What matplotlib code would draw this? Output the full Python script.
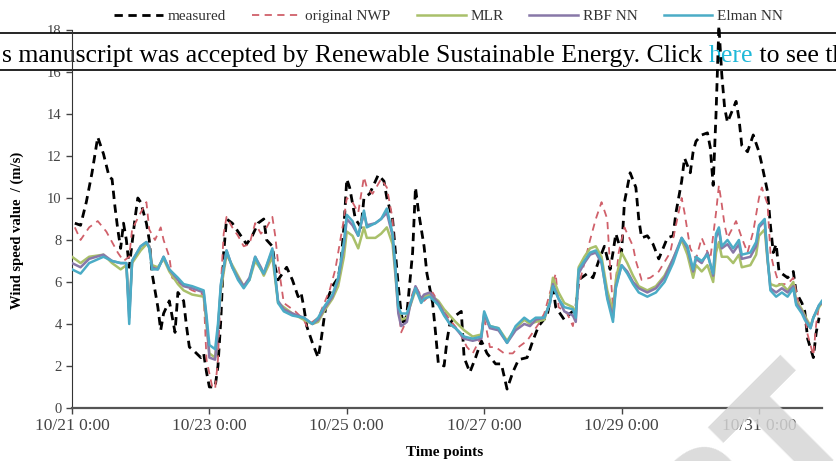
import numpy as np
import matplotlib
matplotlib.use("Agg")
import matplotlib.pyplot as plt
from matplotlib.patches import Rectangle

plt.rcParams['font.family'] = ['Liberation Serif', 'DejaVu Serif']

# hours since 10/21 0:00
meas_t = [1, 3, 5, 7, 9, 11, 13, 14, 15, 16, 17, 18, 19, 20, 22, 23, 24, 26, 27, 28,
          30, 31, 32, 34, 36, 37, 39, 40, 41, 42, 45, 46, 47, 48, 50, 51, 52, 53, 54, 56,
          59, 61, 63, 65, 67, 68, 70, 71, 72, 75, 77, 79, 80, 81, 82, 84, 86, 87, 88, 89,
          91, 93, 94, 95, 96, 97, 99, 101, 102, 104, 107, 109, 110, 112, 114, 115, 116, 117, 119, 120,
          121, 123, 124, 126, 127, 128, 130, 131, 132, 134, 136, 137, 139, 141, 143, 145, 148, 150, 151, 152,
          154, 156, 159, 161, 163, 166, 168, 169, 172, 174, 176, 177, 180, 182, 184, 186, 188, 189, 190, 192,
          193, 195, 197, 198, 199, 201, 203, 205, 208, 210, 211, 213, 214, 216, 217, 218, 220, 222, 223, 224,
          225, 226, 227, 228, 229, 232, 233, 234, 236, 238, 240, 241, 243, 244, 245, 246, 247, 250, 252, 253,
          255, 256, 257, 259, 260, 261]
measured = [8.8, 8.7, 9.8, 11.2, 12.9, 12.1, 11.0, 10.9, 9.6, 8.5, 7.6, 8.8, 8.0, 6.7, 9.0, 10.0, 9.8, 8.8, 8.0, 6.4,
            4.8, 3.7, 4.5, 5.1, 3.6, 5.5, 5.1, 3.9, 2.9, 2.8, 2.4, 2.6, 1.7, 1.0, 1.0, 2.0, 4.2, 7.4, 9.0, 8.8,
            8.2, 7.8, 8.2, 8.8, 9.0, 8.0, 7.7, 6.7, 6.1, 6.7, 6.1, 5.3, 5.5, 4.8, 3.9, 3.1, 2.4, 3.2, 4.2, 5.1,
            5.8, 6.2, 7.0, 8.6, 10.9, 10.5, 9.0, 8.6, 10.0, 10.2, 11.1, 10.8, 10.0, 9.0, 5.8, 4.5, 3.9, 4.5, 7.4, 10.5,
            9.4, 7.7, 6.4, 5.0, 3.6, 2.1, 2.0, 3.2, 4.0, 4.4, 4.6, 2.4, 1.7, 2.4, 3.2, 2.6, 2.1, 2.1, 1.5, 0.9,
            1.7, 2.3, 2.4, 3.2, 3.9, 4.4, 5.8, 4.8, 4.2, 4.5, 4.7, 6.1, 6.4, 6.2, 7.0, 7.7, 6.6, 7.4, 8.3, 7.4,
            9.8, 11.2, 10.5, 9.0, 8.1, 8.2, 7.8, 7.1, 8.1, 8.2, 9.3, 10.8, 11.9, 11.2, 12.2, 12.7, 13.0, 13.1, 12.4, 10.6,
            14.0, 18.2, 15.9, 14.3, 13.6, 14.6, 13.8, 12.5, 12.2, 13.0, 12.2, 11.6, 10.3, 8.7, 7.4, 7.8, 6.5, 6.2, 6.5, 5.5,
            5.0, 4.6, 3.3, 2.4, 3.6, 4.3]

nwp_t = [1, 3, 6, 9, 12, 14, 16, 18, 20, 21, 24, 26, 27, 29, 31, 32, 34, 35, 38, 42,
         46, 47, 49, 50, 51, 52, 53, 54, 56, 58, 60, 62, 64, 66, 68, 70, 71, 72, 74, 78,
         81, 82, 86, 90, 92, 95, 96, 98, 100, 102, 103, 105, 108, 110, 112, 113, 114, 115, 117, 118,
         120, 123, 126, 129, 132, 135, 138, 140, 143, 144, 145, 146, 148, 151, 154, 156, 159, 161, 163, 165,
         167, 169, 170, 173, 175, 177, 179, 181, 183, 185, 187, 188, 189, 191, 193, 196, 197, 199, 202, 205,
         209, 211, 213, 214, 216, 218, 220, 223, 225, 226, 227, 228, 229, 232, 234, 236, 238, 240, 241, 243,
         244, 245, 247, 250, 252, 254, 256, 257, 259, 260, 261]
nwp = [8.6, 8.0, 8.6, 8.9, 8.4, 7.9, 7.4, 7.0, 7.2, 8.5, 9.3, 9.8, 8.5, 8.0, 8.6, 8.0, 7.2, 6.2, 5.9, 5.6,
       5.4, 2.3, 1.0, 0.9, 2.3, 5.8, 8.3, 9.1, 8.6, 8.2, 7.7, 7.8, 8.8, 8.3, 8.6, 9.1, 8.2, 6.9, 5.0, 4.6,
       4.2, 3.9, 4.3, 5.6, 6.6, 9.0, 10.0, 9.8, 9.3, 11.0, 10.5, 10.2, 10.9, 10.5, 9.0, 6.5, 4.8, 3.6, 4.2, 5.1,
       5.8, 5.1, 5.5, 4.8, 4.2, 3.7, 2.9, 2.6, 3.4, 4.3, 3.6, 2.9, 2.9, 2.6, 2.6, 2.9, 3.2, 3.6, 4.0, 4.5,
       5.5, 6.4, 4.8, 4.5, 3.9, 5.8, 6.9, 8.0, 9.0, 9.8, 9.0, 6.7, 4.8, 7.4, 8.6, 7.7, 7.0, 6.1, 6.2, 6.5,
       7.4, 8.7, 10.0, 9.3, 7.6, 7.1, 8.1, 7.1, 9.3, 10.6, 9.7, 8.7, 8.1, 8.9, 8.1, 7.4, 8.4, 10.0, 10.5, 9.7,
       7.4, 6.8, 5.9, 5.9, 6.2, 4.9, 4.4, 3.5, 2.5, 4.0, 4.9]

model_t = [0, 3, 6, 11, 14, 17, 19, 20, 21, 24, 26, 27, 28, 30, 32, 34, 37, 39, 42, 46,
           47, 48, 50, 51, 52, 54, 56, 58, 60, 62, 64, 66, 67, 70, 72, 74, 77, 81, 84, 86,
           88, 91, 93, 95, 96, 98, 100, 102, 103, 106, 108, 110, 112, 113, 114, 115, 117, 118, 120, 122,
           123, 125, 128, 130, 132, 134, 137, 140, 143, 144, 146, 149, 152, 155, 158, 160, 162, 165, 167, 168,
           170, 172, 175, 176, 177, 179, 181, 183, 185, 187, 189, 190, 192, 194, 196, 198, 201, 204, 207, 210,
           213, 215, 217, 218, 220, 222, 224, 225, 226, 227, 229, 231, 233, 234, 237, 239, 240, 242, 243, 244,
           246, 248, 250, 252, 253, 255, 256, 258, 259, 261, 262]
mlr = [7.2, 6.9, 7.2, 7.3, 6.9, 6.6, 6.8, 4.6, 6.9, 7.5, 7.8, 7.7, 6.8, 6.7, 7.1, 6.5, 5.9, 5.6, 5.4, 5.3,
       4.0, 2.6, 2.4, 3.8, 5.6, 7.3, 6.8, 6.3, 5.8, 6.1, 7.0, 6.6, 6.3, 7.2, 5.0, 4.8, 4.5, 4.2, 4.0, 4.1,
       4.6, 5.2, 5.8, 7.2, 8.4, 8.2, 7.6, 8.6, 8.1, 8.1, 8.3, 8.6, 7.8, 6.3, 4.7, 4.2, 4.3, 4.8, 5.6, 5.2,
       5.3, 5.4, 5.1, 4.7, 4.4, 4.1, 3.7, 3.4, 3.5, 4.4, 3.9, 3.8, 3.2, 3.8, 4.2, 4.0, 4.1, 4.2, 5.1, 6.2,
       5.5, 5.0, 4.8, 4.5, 6.7, 7.2, 7.6, 7.7, 7.2, 5.6, 4.6, 6.1, 7.4, 6.9, 6.3, 5.8, 5.6, 5.8, 6.3, 7.1,
       8.0, 7.3, 6.2, 6.8, 6.5, 6.8, 6.0, 7.4, 7.9, 7.2, 7.2, 6.9, 7.3, 6.7, 6.8, 7.3, 8.2, 8.5, 7.0, 5.9,
       5.8, 5.9, 5.6, 6.0, 5.1, 4.7, 4.4, 3.9, 4.3, 4.8, 5.0]
rbf = [6.9, 6.7, 7.1, 7.3, 7.0, 6.9, 6.9, 4.3, 7.0, 7.7, 7.9, 7.7, 6.7, 6.6, 7.2, 6.6, 6.1, 5.8, 5.7, 5.5,
       4.2, 2.4, 2.3, 3.7, 5.8, 7.5, 6.7, 6.2, 5.8, 6.2, 7.2, 6.7, 6.4, 7.5, 5.1, 4.7, 4.5, 4.3, 4.0, 4.2,
       4.7, 5.3, 6.1, 7.7, 9.0, 8.7, 8.2, 9.3, 8.7, 8.8, 9.0, 9.3, 8.2, 6.5, 4.5, 3.9, 4.1, 4.8, 5.8, 5.2,
       5.4, 5.5, 5.0, 4.5, 4.0, 3.8, 3.3, 3.2, 3.3, 4.5, 3.8, 3.7, 3.1, 3.7, 4.0, 3.9, 4.2, 4.3, 5.0, 5.9,
       5.2, 4.6, 4.4, 4.1, 6.4, 6.9, 7.3, 7.4, 6.9, 5.3, 4.3, 5.8, 6.8, 6.5, 6.0, 5.7, 5.5, 5.7, 6.2, 7.1,
       8.1, 7.6, 6.5, 7.1, 6.9, 7.4, 6.3, 8.1, 8.5, 7.6, 7.8, 7.4, 7.8, 7.1, 7.2, 7.7, 8.6, 8.9, 7.1, 5.7,
       5.5, 5.7, 5.5, 5.8, 5.0, 4.6, 4.3, 3.8, 4.3, 4.9, 5.0]
elman = [6.6, 6.4, 6.9, 7.2, 7.0, 6.9, 6.9, 4.0, 7.0, 7.7, 7.9, 7.6, 6.6, 6.6, 7.2, 6.6, 6.2, 5.9, 5.8, 5.6,
         4.4, 3.0, 2.8, 4.0, 5.9, 7.5, 6.7, 6.1, 5.7, 6.1, 7.2, 6.6, 6.4, 7.6, 5.0, 4.6, 4.4, 4.3, 4.0, 4.3,
         4.8, 5.4, 6.2, 7.9, 9.2, 8.9, 8.2, 9.4, 8.6, 8.8, 9.0, 9.5, 8.3, 6.7, 4.8, 4.5, 4.5, 4.9, 5.7, 5.0,
         5.2, 5.3, 4.9, 4.4, 4.0, 3.8, 3.4, 3.3, 3.4, 4.6, 3.9, 3.8, 3.1, 3.9, 4.3, 4.1, 4.3, 4.3, 5.0, 5.8,
         5.2, 4.8, 4.7, 4.3, 6.6, 7.0, 7.4, 7.5, 7.0, 5.2, 4.1, 5.7, 6.8, 6.4, 5.9, 5.5, 5.3, 5.5, 6.0, 6.9,
         8.1, 7.7, 6.6, 7.2, 7.0, 7.3, 6.4, 8.3, 8.6, 7.7, 8.0, 7.6, 8.0, 7.3, 7.4, 7.9, 8.7, 9.0, 7.2, 5.6,
         5.3, 5.5, 5.3, 5.7, 4.9, 4.5, 4.2, 3.8, 4.3, 4.9, 5.1]

tick_hours = [0, 48, 96, 144, 192, 240]
tick_labels = ['10/21 0:00', '10/23 0:00', '10/25 0:00', '10/27 0:00', '10/29 0:00', '10/31 0:00']

fig = plt.figure(figsize=(8.37, 4.61), dpi=100)
ax = fig.add_axes([0.086, 0.115, 0.896, 0.82])
ax.set_facecolor('none')

ax.plot(meas_t, measured, color='black', lw=2.0, ls=(0, (3, 2)), label='measured', zorder=3, clip_on=False)
ax.plot(nwp_t, nwp, color='#d0606a', lw=1.3, ls=(0, (4, 3)), label='original NWP', zorder=3)
ax.plot(model_t, mlr, color='#a9c06a', lw=1.8, label='MLR', zorder=3)
ax.plot(model_t, rbf, color='#8878a8', lw=1.8, label='RBF NN', zorder=3)
ax.plot(model_t, elman, color='#4bacc6', lw=1.8, label='Elman NN', zorder=3)

ax.set_xlim(0, 262)
ax.set_ylim(0, 18)
ax.set_yticks(range(0, 19, 2))
ax.set_xticks(tick_hours)
ax.set_xticklabels(tick_labels)
ax.tick_params(axis='both', direction='out', length=4, colors='#444444', width=1)
ax.tick_params(axis='x', labelsize=12.5)
ax.tick_params(axis='y', labelsize=10.5)
ax.yaxis.set_zorder(0.2)
for s in ['top', 'right']:
    ax.spines[s].set_visible(False)
ax.spines['left'].set_color('#333333')
ax.spines['bottom'].set_color('#555555')
ax.spines['bottom'].set_linewidth(1.6)

ax.set_ylabel('Wind speed value  / (m/s)', fontweight='bold', fontsize=10.5)
ax.yaxis.set_label_coords(-0.064, 0.47)
ax.set_xlabel('Time points', fontweight='bold', fontsize=11)
ax.xaxis.set_label_coords(0.497, -0.1)

fig.legend(loc='center', bbox_to_anchor=(0.536, 0.965), ncol=5, frameon=False,
           fontsize=11, handlelength=3.2, columnspacing=1.7, handletextpad=0.3,
           labelcolor='#333333')

# banner strip across the top
ax.add_patch(Rectangle((-0.01, 0.848), 1.02, 0.08, transform=fig.transFigure, facecolor='white',
                       edgecolor='black', lw=1.2, clip_on=False, zorder=0.3))
t1 = ax.text(0.002, 0.866, 's manuscript was accepted by Renewable Sustainable Energy. Click ',
             transform=fig.transFigure, fontsize=18.5, va='baseline', clip_on=False, zorder=0.5)
t2 = ax.annotate('here', xy=(1, 0), xycoords=t1, fontsize=18.5, color='#1fb8d8', va='bottom',
                 annotation_clip=False, zorder=0.5)
ax.annotate(' to see th', xy=(1, 0), xycoords=t2, fontsize=18.5, va='bottom',
            annotation_clip=False, zorder=0.5)

# watermark
fig.text(0.925, 0.262, 'PT', fontsize=110, fontweight='bold', family='DejaVu Sans', color='#d6d6d6',
         alpha=0.85, rotation=45, rotation_mode='anchor', ha='right', va='top', zorder=5)

fig.savefig('out.png', dpi=100)
